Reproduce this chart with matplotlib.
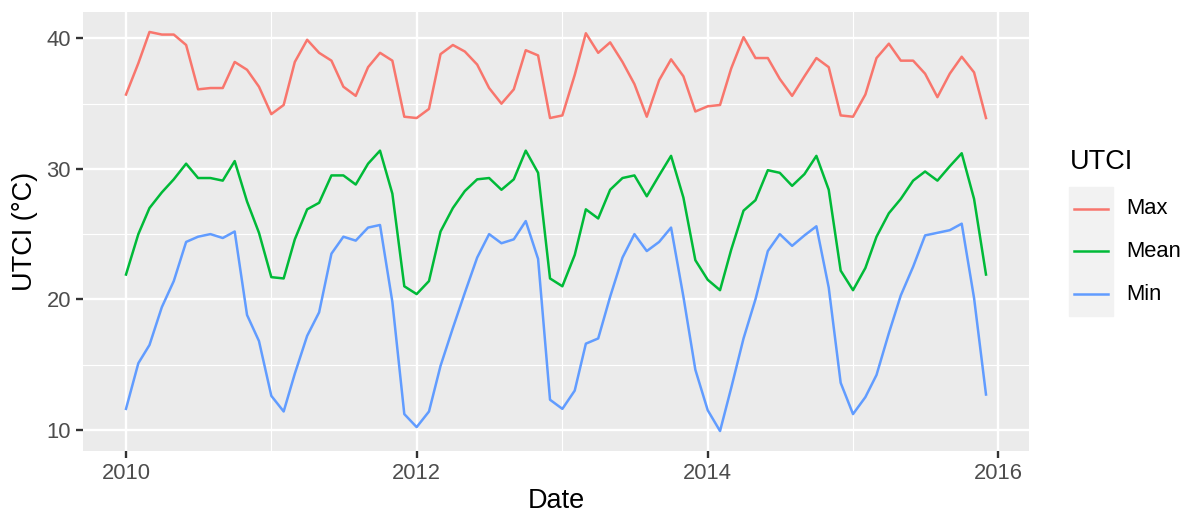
import matplotlib.pyplot as plt
import matplotlib.dates as mdates
from matplotlib.lines import Line2D
from matplotlib.patches import Rectangle
import numpy as np
import pandas as pd

dates = pd.date_range('2010-01-01', '2015-12-01', freq='MS')

utci_max = [35.7, 38.1, 40.5, 40.3, 40.3, 39.5, 36.1, 36.2, 36.2, 38.2, 37.6, 36.3,
            34.2, 34.9, 38.2, 39.9, 38.9, 38.3, 36.3, 35.6, 37.8, 38.9, 38.3, 34.0,
            33.9, 34.6, 38.8, 39.5, 39.0, 38.0, 36.2, 35.0, 36.1, 39.1, 38.7, 33.9,
            34.1, 37.2, 40.4, 38.9, 39.7, 38.2, 36.5, 34.0, 36.8, 38.4, 37.1, 34.4,
            34.8, 34.9, 37.7, 40.1, 38.5, 38.5, 36.9, 35.6, 37.1, 38.5, 37.8, 34.1,
            34.0, 35.7, 38.5, 39.6, 38.3, 38.3, 37.3, 35.5, 37.3, 38.6, 37.4, 33.9]
utci_mean = [21.9, 25.0, 27.0, 28.2, 29.2, 30.4, 29.3, 29.3, 29.1, 30.6, 27.5, 25.1,
             21.7, 21.6, 24.6, 26.9, 27.4, 29.5, 29.5, 28.8, 30.4, 31.4, 28.1, 21.0,
             20.4, 21.4, 25.2, 27.0, 28.3, 29.2, 29.3, 28.4, 29.2, 31.4, 29.7, 21.6,
             21.0, 23.4, 26.9, 26.2, 28.4, 29.3, 29.5, 27.9, 29.5, 31.0, 27.8, 23.0,
             21.5, 20.7, 23.8, 26.8, 27.6, 29.9, 29.7, 28.7, 29.6, 31.0, 28.4, 22.2,
             20.7, 22.4, 24.8, 26.6, 27.7, 29.1, 29.8, 29.1, 30.2, 31.2, 27.7, 21.9]
utci_min = [11.6, 15.1, 16.5, 19.4, 21.4, 24.4, 24.8, 25.0, 24.7, 25.2, 18.8, 16.8,
            12.6, 11.4, 14.3, 17.2, 19.0, 23.5, 24.8, 24.5, 25.5, 25.7, 19.8, 11.2,
            10.2, 11.4, 14.9, 17.8, 20.5, 23.2, 25.0, 24.3, 24.6, 26.0, 23.1, 12.3,
            11.6, 13.0, 16.6, 17.0, 20.2, 23.2, 25.0, 23.7, 24.4, 25.5, 20.2, 14.6,
            11.5, 9.9, 13.2, 17.0, 20.0, 23.7, 25.0, 24.1, 24.9, 25.6, 20.9, 13.6,
            11.2, 12.5, 14.2, 17.4, 20.3, 22.5, 24.9, 25.1, 25.3, 25.8, 20.1, 12.7]

series_names = ['Max', 'Mean', 'Min']
colors = ['#F8766D', '#00BA38', '#619CFF']


def main():
    plt.rcParams['font.family'] = ['Liberation Sans', 'DejaVu Sans']
    fig = plt.figure(figsize=(11.88, 5.13), dpi=100)
    ax = fig.add_axes([83/1188, 1-451/513, (1029-83)/1188, (451-12)/513])
    ax.set_facecolor('#EBEBEB')

    for vals, c in zip([utci_max, utci_mean, utci_min], colors):
        ax.plot(dates, vals, color=c, lw=1.8, solid_joinstyle='round', zorder=3)

    allv = np.concatenate([utci_max, utci_mean, utci_min])
    lo, hi = allv.min(), allv.max()
    pad = (hi - lo) * 0.05
    ax.set_ylim(lo - pad, hi + pad)
    d0 = mdates.date2num(dates[0])
    d1 = mdates.date2num(dates[-1])
    xpad = (d1 - d0) * 0.05
    ax.set_xlim(d0 - xpad, d1 + xpad)

    ax.set_yticks([10, 20, 30, 40])
    ax.set_yticks([15, 25, 35], minor=True)
    yrs = [pd.Timestamp(f'{y}-01-01') for y in [2010, 2012, 2014, 2016]]
    ax.set_xticks(yrs)
    ax.set_xticklabels(['2010', '2012', '2014', '2016'])
    ax.set_xticks([pd.Timestamp(f'{y}-01-01') for y in [2011, 2013, 2015]], minor=True)

    ax.grid(which='major', color='white', lw=1.7, zorder=0)
    ax.grid(which='minor', color='white', lw=0.85, zorder=0)
    ax.set_axisbelow(True)
    for s in ax.spines.values():
        s.set_visible(False)
    ax.tick_params(which='major', length=5, width=1.7, color='#333333',
                   labelsize=15.8, labelcolor='#4D4D4D', pad=3.7)
    ax.tick_params(which='minor', length=0)

    ax.set_xlabel('Date', fontsize=19.5, labelpad=3)
    ax.set_ylabel('UTCI (°C)', fontsize=19.5, labelpad=6)

    # legend
    fig.text(1070/1188, 1-162/513, 'UTCI', fontsize=19.5, va='center', ha='left')
    fig.patches.append(Rectangle((1069/1188, 1-316/513), 44/1188, 129/513,
                                 transform=fig.transFigure, color='#F2F2F2'))
    for i, (name, c) in enumerate(zip(series_names, colors)):
        yy = 1 - (208.5 + 42.8*i)/513
        fig.lines.append(Line2D([1074/1188, 1108/1188], [yy, yy], color=c, lw=1.8,
                                transform=fig.transFigure))
        fig.text(1126/1188, yy, name, fontsize=15.8, va='center', ha='left')

    fig.savefig('out.png', dpi=100)


if __name__ == '__main__':
    main()
